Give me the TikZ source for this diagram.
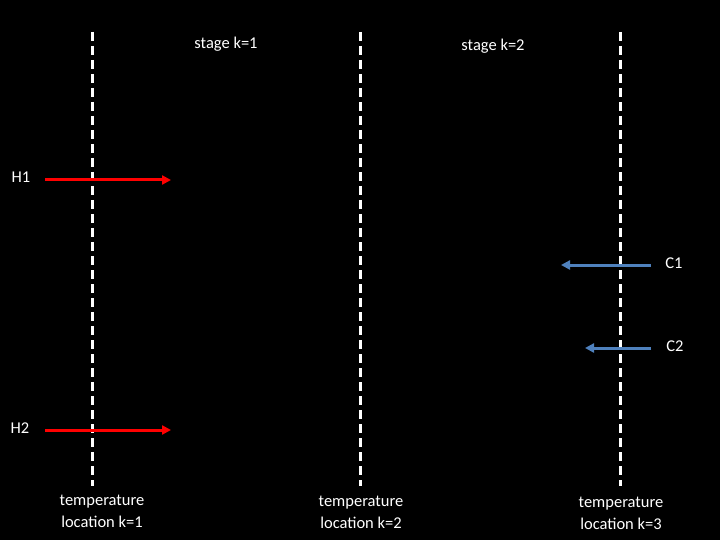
\documentclass[tikz,border=0pt]{standalone}
\usepackage{fontspec}
\setmainfont{Carlito}
\usetikzlibrary{arrows.meta}
\begin{document}
\begin{tikzpicture}[x=1pt,y=-1pt,
  lbl/.style={text=white,font=\fontsize{16.5}{22}\selectfont,align=center,inner sep=0},
  dline/.style={white,line width=3pt,dash pattern=on 9pt off 5pt},
  hot/.style={red,line width=3pt,-{Triangle[length=9pt,width=9pt]}},
  cold/.style={draw={rgb,255:red,79;green,129;blue,189},line width=3pt,-{Triangle[length=9pt,width=9pt]}}]
\fill[black] (0,0) rectangle (720,540);
\useasboundingbox (0,0) rectangle (720,540);
\foreach \n/\x in {a/92,b/360,c/620}{
  \coordinate (\n t) at (\x,32); \coordinate (\n b) at (\x,486);
  \draw[dline] (\n t) -- (\n b);}
\node[lbl] (s1) at (226,44) {stage k=1};
\node[lbl] (s2) at (493,46) {stage k=2};
\node[lbl] (h1) at (21,177) {H1};
\node[lbl] (h2) at (20,428) {H2};
\node[lbl] (c1) at (674,263) {C1};
\node[lbl] (c2) at (675,346) {C2};
\coordinate (h1s) at (45,180); \coordinate (h1e) at (171,180);
\coordinate (h2s) at (45,430); \coordinate (h2e) at (171,430);
\coordinate (c1s) at (651,265); \coordinate (c1e) at (561,265);
\coordinate (c2s) at (651,348); \coordinate (c2e) at (585,348);
\draw[hot] (h1s) -- (h1e);
\draw[hot] (h2s) -- (h2e);
\draw[cold] (c1s) -- (c1e);
\draw[cold] (c2s) -- (c2e);
\node[lbl] (t1) at (102,511) {temperature\\location k=1};
\node[lbl] (t2) at (361,512) {temperature\\location k=2};
\node[lbl] (t3) at (621,513) {temperature\\location k=3};
\end{tikzpicture}
\end{document}
